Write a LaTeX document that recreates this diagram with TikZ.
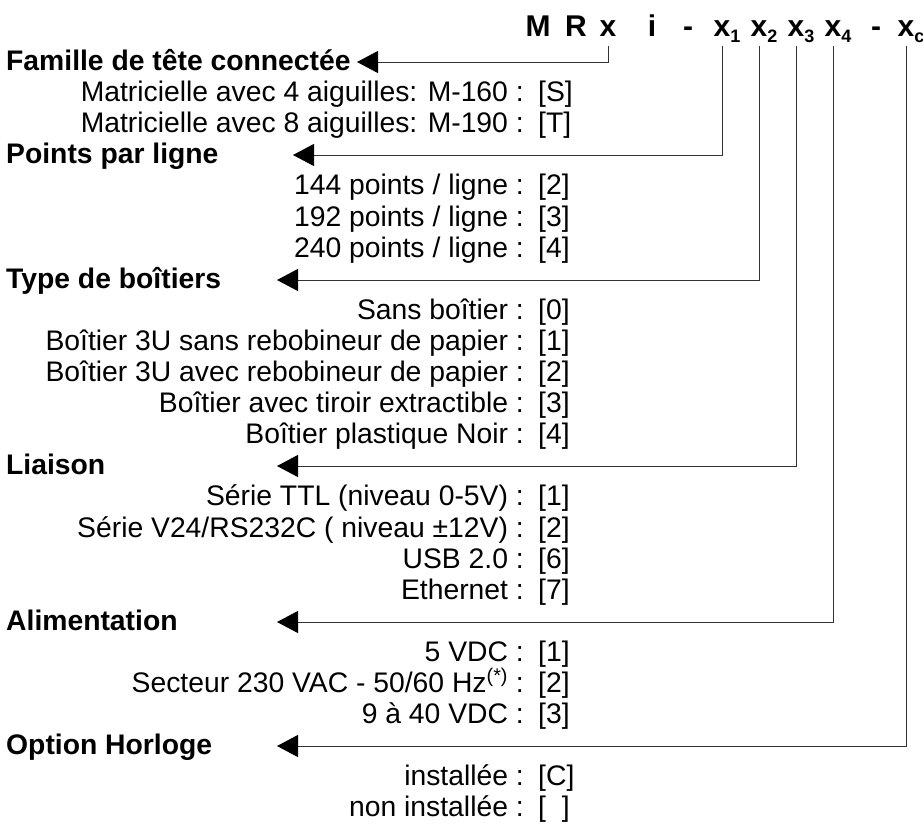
\documentclass[tikz,border=0pt]{standalone}
\usepackage{fontspec}
\setmainfont{Liberation Sans}
\usetikzlibrary{arrows.meta}

\tikzset{
  hdr/.style={font=\fontsize{30}{30}\selectfont\bfseries, inner sep=0pt, anchor=base},
  titre/.style={font=\fontsize{28.3}{30}\selectfont\bfseries, inner sep=0pt, anchor=base west},
  choix/.style={font=\fontsize{28.3}{30}\selectfont, inner sep=0pt, anchor=base east},
  code/.style={font=\fontsize{28.3}{30}\selectfont, inner sep=0pt, anchor=base west},
  lien/.style={draw=black!80, line width=1pt, -{Triangle[length=21pt,width=22pt,black]}}
}
\newcommand{\indice}[1]{\rlap{\raisebox{-6pt}{\fontsize{18}{18}\selectfont\bfseries #1}}}

\begin{document}
\begin{tikzpicture}[x=1pt, y=-1pt]
    \useasboundingbox (0,0) rectangle (923,823);

    % reference
    \node[hdr] (hm) at (538,36) {M};
    \node[hdr] (hr) at (576,36) {R};
    \node[hdr] (hx) at (608,36) {x};
    \node[hdr] (hi) at (652,36) {i};
    \node[hdr] (hd) at (688,36) {-};
    \node[hdr] (hxa) at (722,36) {x\indice{1}};
    \node[hdr] (hxb) at (759,36) {x\indice{2}};
    \node[hdr] (hxc) at (796,36) {x\indice{3}};
    \node[hdr] (hxd) at (833,36) {x\indice{4}};
    \node[hdr] (hde) at (876,36) {-};
    \node[hdr] (hxe) at (906,36) {x\indice{c}};

    % famille de tete
    \node[titre] (tfam) at (6,70) {Famille de tête connectée};
    \node[choix] at (524,101) {Matricielle avec 4 aiguilles: M-160 :};
    \node[code] at (538,101) {[S]};
    \node[choix] at (524,132) {Matricielle avec 8 aiguilles: M-190 :};
    \node[code] at (538,132) {[T]};

    % points par ligne
    \node[titre] (tpts) at (6,163) {Points par ligne};
    \node[choix] at (524,194) {144 points / ligne :};
    \node[code] at (538,194) {[2]};
    \node[choix] at (524,226) {192 points / ligne :};
    \node[code] at (538,226) {[3]};
    \node[choix] at (524,257) {240 points / ligne :};
    \node[code] at (538,257) {[4]};

    % boitiers
    \node[titre] (tboi) at (6,288) {Type de boîtiers};
    \node[choix] at (524,319) {Sans boîtier :};
    \node[code] at (538,319) {[0]};
    \node[choix] at (524,350) {Boîtier 3U sans rebobineur de papier :};
    \node[code] at (538,350) {[1]};
    \node[choix] at (524,381) {Boîtier 3U avec rebobineur de papier :};
    \node[code] at (538,381) {[2]};
    \node[choix] at (524,412) {Boîtier avec tiroir extractible :};
    \node[code] at (538,412) {[3]};
    \node[choix] at (524,443) {Boîtier plastique Noir :};
    \node[code] at (538,443) {[4]};

    % liaison
    \node[titre] (tlia) at (6,474) {Liaison};
    \node[choix] at (524,505) {Série TTL (niveau 0-5V) :};
    \node[code] at (538,505) {[1]};
    \node[choix] at (524,537) {Série V24/RS232C ( niveau ±12V) :};
    \node[code] at (538,537) {[2]};
    \node[choix] at (524,568) {USB 2.0 :};
    \node[code] at (538,568) {[6]};
    \node[choix] at (524,599) {Ethernet :};
    \node[code] at (538,599) {[7]};

    % alimentation
    \node[titre] (tali) at (6,630) {Alimentation};
    \node[choix] at (524,661) {5 VDC :};
    \node[code] at (538,661) {[1]};
    \node[choix] at (524,692) {Secteur 230 VAC - 50/60 Hz\textsuperscript{(*)} :};
    \node[code] at (538,692) {[2]};
    \node[choix] at (524,723) {9 à 40 VDC :};
    \node[code] at (538,723) {[3]};

    % horloge
    \node[titre] (thor) at (6,754) {Option Horloge};
    \node[choix] at (524,785) {installée :};
    \node[code] at (538,785) {[C]};
    \node[choix] at (524,816) {non installée :};
    \node[code] at (538,816) {[\ \ ]};

    % fleches
    \coordinate (pfam) at (357,62);
    \coordinate (ppts) at (293,155);
    \coordinate (pboi) at (277,280);
    \coordinate (plia) at (277,466);
    \coordinate (pali) at (277,622);
    \coordinate (phor) at (277,746);
    \draw[lien] ([yshift=-10pt]hx.base) |- (pfam);
    \draw[lien] ([yshift=-10pt]hxa.base) |- (ppts);
    \draw[lien] ([yshift=-10pt]hxb.base) |- (pboi);
    \draw[lien] ([yshift=-10pt]hxc.base) |- (plia);
    \draw[lien] ([yshift=-10pt]hxd.base) |- (pali);
    \draw[lien] ([yshift=-10pt]hxe.base) |- (phor);
\end{tikzpicture}
\end{document}
